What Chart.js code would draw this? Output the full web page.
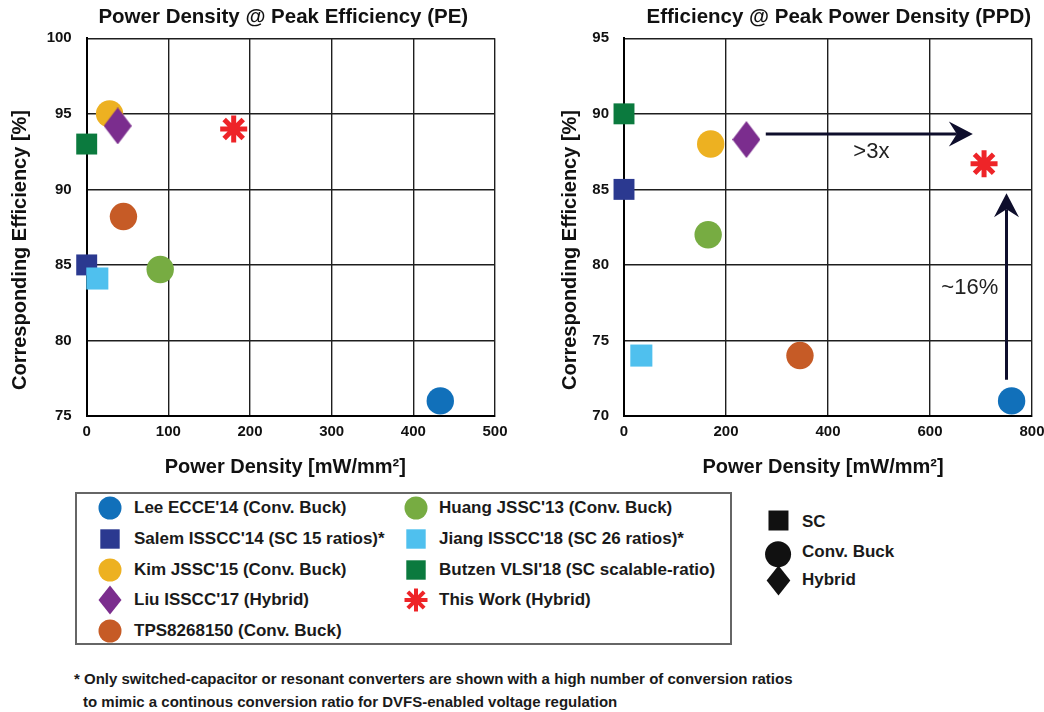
<!DOCTYPE html>
<html>
<head>
<meta charset="utf-8">
<script src="https://cdn.jsdelivr.net/npm/chart.js@4/dist/chart.umd.min.js"></script>
<style>
  html, body { margin: 0; padding: 0; background: #fff; }
  body { position: relative; width: 1044px; height: 712px; overflow: hidden;
         font-family: 'Liberation Sans', Arial, Helvetica, sans-serif; color: #1a1a1a; }
  .abs { position: absolute; }
  #legendBox { position: absolute; left: 75px; top: 492px; width: 657px; height: 153px;
               border: 2px solid #666; box-sizing: border-box; }
  .lg-text { position: absolute; font-weight: bold; font-size: 17px; line-height: 20px; white-space: nowrap; }
  .note { position: absolute; font-weight: bold; font-size: 15px; line-height: 18px; white-space: nowrap; }
</style>
</head>
<body>
<canvas id="pe" class="abs" width="520" height="480" style="left:0;top:0"></canvas>
<canvas id="ppd" class="abs" width="540" height="480" style="left:520px;top:0"></canvas>
<div id="legendBox"></div>
<div id="legendLayer"></div>
<script>
const FONT = "'Liberation Sans', Arial, Helvetica, sans-serif";

// Published designs, in legend order
const designs = [
  "Lee ECCE'14 (Conv. Buck)",
  "Salem ISSCC'14 (SC 15 ratios)*",
  "Kim JSSC'15 (Conv. Buck)",
  "Liu ISSCC'17 (Hybrid)",
  "TPS8268150 (Conv. Buck)",
  "Huang JSSC'13 (Conv. Buck)",
  "Jiang ISSCC'18 (SC 26 ratios)*",
  "Butzen VLSI'18 (SC scalable-ratio)",
  "This Work (Hybrid)"
];
const topologies = ["buck", "sc", "buck", "hybrid", "buck", "buck", "sc", "sc", "work"];
const colors = ["#1170BA", "#2B3990", "#EDB121", "#7B2D8E", "#C65B26", "#77AC42", "#4FC0EE", "#0B7A3E", "#EE2428"];

// Power density [mW/mm2] and efficiency [%] at peak efficiency
const peDensity    = [433, 0, 28, 38, 45, 90, 13, 0, 180];
const peEfficiency = [76, 85, 95, 94.2, 88.2, 84.7, 84.1, 93, 94];

// Power density [mW/mm2] and efficiency [%] at peak power density
const ppdDensity    = [760, 0, 170, 240, 345, 165, 34, 0, 706];
const ppdEfficiency = [71, 85, 88, 88.3, 74, 82, 74, 90, 86.7];

// Axis ticks
const peXTicks  = [0, 100, 200, 300, 400, 500];
const peYTicks  = [75, 80, 85, 90, 95, 100];
const ppdXTicks = [0, 200, 400, 600, 800];
const ppdYTicks = [70, 75, 80, 85, 90, 95];

// Improvement arrows on the peak-power-density panel
const arrowStartX = [278, 750];
const arrowStartY = [88.66, 72.4];
const arrowEndX   = [684, 750];
const arrowEndY   = [88.66, 84.74];
const noteText = [">3x", "~16%"];
const noteX    = [485, 678];
const noteY    = [87.5, 78.45];

// Topology key
const shapeNames = ["SC", "Conv. Buck", "Hybrid"];
const shapeKinds = ["sc", "buck", "hybrid"];

const footnote = [
  "* Only switched-capacitor or resonant converters are shown with a high number of conversion ratios",
  "to mimic a continous conversion ratio for DVFS-enabled voltage regulation"
];

function diamondImage(color, w, h) {
  const c = document.createElement('canvas');
  c.width = w; c.height = h;
  const g = c.getContext('2d');
  g.fillStyle = color;
  g.beginPath();
  g.moveTo(w / 2, 0); g.lineTo(w, h / 2); g.lineTo(w / 2, h); g.lineTo(0, h / 2);
  g.closePath(); g.fill();
  return c;
}

function makeDatasets(xs, ys) {
  return designs.map((name, i) => {
    const t = topologies[i];
    const ds = {
      label: name,
      data: [{ x: xs[i], y: ys[i] }],
      pointBackgroundColor: colors[i],
      pointBorderColor: colors[i],
      backgroundColor: colors[i],
      borderColor: colors[i],
      pointBorderWidth: 0,
      clip: false,
      order: -i
    };
    if (t === 'buck') { ds.pointStyle = 'circle'; ds.pointRadius = 13.7; }
    else if (t === 'sc') { ds.pointStyle = 'rect'; ds.pointRadius = (i === 6) ? 15.6 : 14.8; }
    else if (t === 'hybrid') { ds.pointStyle = diamondImage(colors[i], 28, 37); ds.pointRadius = 14; }
    else { ds.pointStyle = 'star'; ds.pointRadius = 13.5; ds.pointBorderWidth = 5; }
    return ds;
  });
}

// Panel titles and axis titles
const captions = {
  id: 'captions',
  afterDraw(chart, args, opts) {
    const ctx = chart.ctx;
    (opts.items || []).forEach(it => {
      ctx.save();
      ctx.translate(it.x, it.y);
      if (it.rotate) ctx.rotate(-Math.PI / 2);
      ctx.font = 'bold ' + it.size + 'px ' + FONT;
      ctx.fillStyle = '#111';
      ctx.textAlign = 'center';
      ctx.textBaseline = 'alphabetic';
      ctx.fillText(it.text, 0, 0);
      ctx.restore();
    });
  }
};

// Arrows and their labels, placed in data coordinates
const arrows = {
  id: 'arrows',
  afterDatasetsDraw(chart, args, opts) {
    if (!opts.enabled) return;
    const ctx = chart.ctx, xs = chart.scales.x, ys = chart.scales.y;
    ctx.save();
    ctx.strokeStyle = '#0e0e2c';
    ctx.fillStyle = '#0e0e2c';
    ctx.lineWidth = 3;
    for (let i = 0; i < arrowStartX.length; i++) {
      const x0 = xs.getPixelForValue(arrowStartX[i]), y0 = ys.getPixelForValue(arrowStartY[i]);
      const x1 = xs.getPixelForValue(arrowEndX[i]),   y1 = ys.getPixelForValue(arrowEndY[i]);
      const ang = Math.atan2(y1 - y0, x1 - x0);
      const L = 24, W = 12.5, N = 16;
      ctx.save();
      ctx.translate(x1, y1);
      ctx.rotate(ang);
      const len = Math.hypot(x1 - x0, y1 - y0);
      ctx.beginPath();
      ctx.moveTo(-len, 0); ctx.lineTo(-N, 0);
      ctx.stroke();
      ctx.beginPath();
      ctx.moveTo(0, 0);
      ctx.lineTo(-L, -W);
      ctx.lineTo(-N, 0);
      ctx.lineTo(-L, W);
      ctx.closePath();
      ctx.fill();
      ctx.restore();
    }
    ctx.font = '22px ' + FONT;
    ctx.fillStyle = '#222';
    ctx.textAlign = 'center';
    ctx.textBaseline = 'middle';
    for (let i = 0; i < noteText.length; i++) {
      ctx.fillText(noteText[i], xs.getPixelForValue(noteX[i]), ys.getPixelForValue(noteY[i]));
    }
    ctx.restore();
  }
};

function axis(ticks, size, isX, padding) {
  return {
    type: 'linear',
    min: ticks[0],
    max: ticks[ticks.length - 1],
    afterBuildTicks: s => { s.ticks = ticks.map(v => ({ value: v })); },
    afterFit: s => { if (isX) s.height = size; else s.width = size; },
    grid: { color: '#1e1e1e', lineWidth: 1.4, drawTicks: false },
    border: { color: '#000', width: 2 },
    ticks: { padding: padding, color: '#111', font: { family: FONT, size: 15, weight: 'bold' } }
  };
}

function panel(id, xs, ys, xTicks, yTicks, yWidth, padRight, items, withArrows) {
  return new Chart(document.getElementById(id), {
    type: 'scatter',
    data: { datasets: makeDatasets(xs, ys) },
    options: {
      responsive: false,
      animation: false,
      events: [],
      layout: { padding: { left: 0, right: padRight, top: 38.3, bottom: 0 }, autoPadding: false },
      plugins: {
        legend: { display: false },
        tooltip: { enabled: false },
        captions: { items: items },
        arrows: { enabled: withArrows }
      },
      scales: {
        x: axis(xTicks, 64, true, 7),
        y: axis(yTicks, yWidth, false, 15)
      }
    },
    plugins: [captions, arrows]
  });
}

panel('pe', peDensity, peEfficiency, peXTicks, peYTicks, 86.7, 25, [
  { text: 'Power Density @ Peak Efficiency (PE)', x: 283.3, y: 22.7, size: 20.5 },
  { text: 'Power Density [mW/mm\u00B2]', x: 285.3, y: 473, size: 20 },
  { text: 'Corresponding Efficiency [%]', x: 26, y: 250, size: 20, rotate: true }
], false);

panel('ppd', ppdDensity, ppdEfficiency, ppdXTicks, ppdYTicks, 104, 28, [
  { text: 'Efficiency @ Peak Power Density (PPD)', x: 318.8, y: 22.7, size: 20.5 },
  { text: 'Power Density [mW/mm\u00B2]', x: 303, y: 473, size: 20 },
  { text: 'Corresponding Efficiency [%]', x: 56, y: 250, size: 20, rotate: true }
], true);

// Legend (HTML), built from the same series arrays
const SVGNS = 'http://www.w3.org/2000/svg';
function marker(kind, color, cx, cy, scale) {
  const s = scale || 1;
  const w = 32 * s, h = 34 * s;
  const svg = document.createElementNS(SVGNS, 'svg');
  svg.setAttribute('width', w); svg.setAttribute('height', h);
  svg.style.position = 'absolute';
  svg.style.left = (cx - w / 2) + 'px';
  svg.style.top = (cy - h / 2) + 'px';
  const mx = w / 2, my = h / 2;
  let el;
  if (kind === 'buck') {
    el = document.createElementNS(SVGNS, 'circle');
    el.setAttribute('cx', mx); el.setAttribute('cy', my); el.setAttribute('r', 11.5 * s);
    el.setAttribute('fill', color);
  } else if (kind === 'sc') {
    const a = 9.7 * s;
    el = document.createElementNS(SVGNS, 'rect');
    el.setAttribute('x', mx - a); el.setAttribute('y', my - a);
    el.setAttribute('width', 2 * a); el.setAttribute('height', 2 * a);
    el.setAttribute('fill', color);
  } else if (kind === 'hybrid') {
    const hw = 11.5 * s, hh = 14.5 * s;
    el = document.createElementNS(SVGNS, 'polygon');
    el.setAttribute('points', `${mx},${my - hh} ${mx + hw},${my} ${mx},${my + hh} ${mx - hw},${my}`);
    el.setAttribute('fill', color);
  } else {
    el = document.createElementNS(SVGNS, 'g');
    el.setAttribute('stroke', color); el.setAttribute('stroke-width', 4);
    for (let k = 0; k < 4; k++) {
      const a = k * Math.PI / 4, r = 11.5;
      const ln = document.createElementNS(SVGNS, 'line');
      ln.setAttribute('x1', mx - r * Math.cos(a)); ln.setAttribute('y1', my - r * Math.sin(a));
      ln.setAttribute('x2', mx + r * Math.cos(a)); ln.setAttribute('y2', my + r * Math.sin(a));
      el.appendChild(ln);
    }
  }
  svg.appendChild(el);
  return svg;
}

const layer = document.getElementById('legendLayer');
const colMarkerX = [110, 415.5];
const colTextX = [134, 439];
const rowY = [508, 539, 570, 600, 631];
designs.forEach((name, i) => {
  const col = i < 5 ? 0 : 1, row = i < 5 ? i : i - 5;
  layer.appendChild(marker(topologies[i], colors[i], colMarkerX[col], rowY[row]));
  const t = document.createElement('div');
  t.className = 'lg-text';
  t.textContent = name;
  t.style.left = colTextX[col] + 'px';
  t.style.top = (rowY[row] - 10) + 'px';
  layer.appendChild(t);
});

const keyMarkerY = [521, 554, 581];
const keyTextY = [521.5, 551.5, 580];
shapeNames.forEach((name, i) => {
  layer.appendChild(marker(shapeKinds[i], '#111', 778, keyMarkerY[i], i === 1 ? 1.13 : 1.03));
  const t = document.createElement('div');
  t.className = 'lg-text';
  t.textContent = name;
  t.style.left = '802px';
  t.style.top = (keyTextY[i] - 10) + 'px';
  layer.appendChild(t);
});

const noteLeft = [74, 83];
const noteTop = [670, 692.5];
footnote.forEach((line, i) => {
  const t = document.createElement('div');
  t.className = 'note';
  t.textContent = line;
  t.style.left = noteLeft[i] + 'px';
  t.style.top = noteTop[i] + 'px';
  layer.appendChild(t);
});
</script>
</body>
</html>
